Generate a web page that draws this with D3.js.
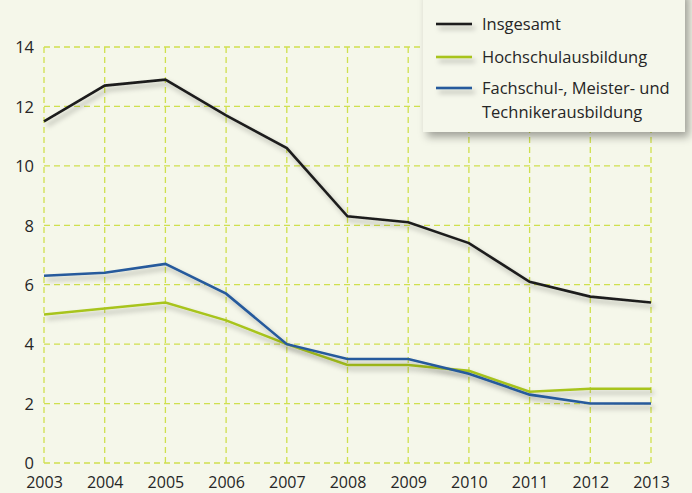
<!DOCTYPE html>
<html><head><meta charset="utf-8">
<script src="https://cdn.jsdelivr.net/npm/d3@7"></script>
<style>
html,body{margin:0;padding:0;background:#f5f7ea;}
svg{display:block;}
text{font-family:"Open Sans",sans-serif;fill:#262626;}
</style></head><body>
<script>
const years = [2003,2004,2005,2006,2007,2008,2009,2010,2011,2012,2013];
const insgesamt = [11.5,12.7,12.9,11.7,10.6,8.3,8.1,7.4,6.1,5.6,5.4];
const hochschul = [5.0,5.2,5.4,4.8,4.0,3.3,3.3,3.1,2.4,2.5,2.5];
const fachschul = [6.3,6.4,6.7,5.7,4.0,3.5,3.5,3.0,2.3,2.0,2.0];
const yTicks = [0,2,4,6,8,10,12,14];
const seriesNames = ["Insgesamt","Hochschulausbildung",["Fachschul-, Meister- und","Technikerausbildung"]];
const seriesColors = ["#1e1e1e","#a8c41f","#265a9c"];

const W=692,H=493;
const svg=d3.select("body").append("svg").attr("width",W).attr("height",H);
svg.append("rect").attr("width",W).attr("height",H).attr("fill","#f5f7ea");
const defs=svg.append("defs");
const f=defs.append("filter").attr("id","sh").attr("filterUnits","userSpaceOnUse")
  .attr("x",0).attr("y",0).attr("width",W).attr("height",H);
f.append("feDropShadow").attr("dx",3).attr("dy",4).attr("stdDeviation",2.5).attr("flood-color","#000").attr("flood-opacity",0.28);
const f2=defs.append("filter").attr("id","sh2").attr("filterUnits","userSpaceOnUse")
  .attr("x",0).attr("y",-20).attr("width",W).attr("height",H);
f2.append("feDropShadow").attr("dx",4).attr("dy",5).attr("stdDeviation",4).attr("flood-color","#000").attr("flood-opacity",0.35);

const x=d3.scaleLinear().domain([2003,2013]).range([44,651]);
const y=d3.scaleLinear().domain([0,14]).range([463,47]);

const grid=svg.append("g").attr("stroke","#cfe04e").attr("stroke-width",1.3).attr("stroke-dasharray","6,4").attr("fill","none");
grid.selectAll("line.v").data(years).enter().append("line")
  .attr("x1",d=>x(d)).attr("x2",d=>x(d)).attr("y1",y(14)).attr("y2",y(0));
grid.selectAll("line.h").data(yTicks).enter().append("line")
  .attr("x1",x(2003)).attr("x2",x(2013)).attr("y1",d=>y(d)).attr("y2",d=>y(d));

const ya=svg.append("g").attr("transform","translate(34,0)")
  .call(d3.axisLeft(y).tickValues(yTicks).tickSize(0).tickPadding(0));
ya.select(".domain").remove();
ya.selectAll("text").attr("font-size",16.5).attr("font-family","'Open Sans',sans-serif").attr("fill","#262626").attr("dy","0.35em");

const xa=svg.append("g").attr("transform","translate(0,488)")
  .call(d3.axisBottom(x).tickValues(years).tickFormat(d3.format("d")).tickSize(0).tickPadding(0));
xa.select(".domain").remove();
xa.selectAll("text").attr("font-size",16).attr("font-family","'Open Sans',sans-serif").attr("fill","#262626").attr("y",0).attr("dy","0");

const line=d3.line().x((d,i)=>x(years[i])).y(d=>y(d));
const data=[insgesamt,hochschul,fachschul];
[0,1,2].forEach(i=>{
  svg.append("path").datum(data[i]).attr("d",line).attr("fill","none")
    .attr("stroke",seriesColors[i]).attr("stroke-width",2.6).attr("stroke-linejoin","miter")
    .attr("filter","url(#sh)");
});

const lg=svg.append("g");
lg.append("rect").attr("x",423).attr("y",-10).attr("width",262).attr("height",142)
  .attr("fill","#f5f7eb").attr("filter","url(#sh2)");
const ly=[24,57,88];
seriesNames.forEach((n,i)=>{
  lg.append("rect").attr("x",436).attr("y",ly[i]-1.3).attr("width",36).attr("height",2.6)
    .attr("fill",seriesColors[i]).attr("filter","url(#sh)");
  const t=lg.append("text").attr("x",482).attr("y",ly[i]+6).attr("font-size",16.5);
  if(Array.isArray(n)){
    n.forEach((s,k)=>t.append("tspan").attr("x",482).attr("dy",k?24:0).text(s));
  } else t.text(n);
});
</script></body></html>
